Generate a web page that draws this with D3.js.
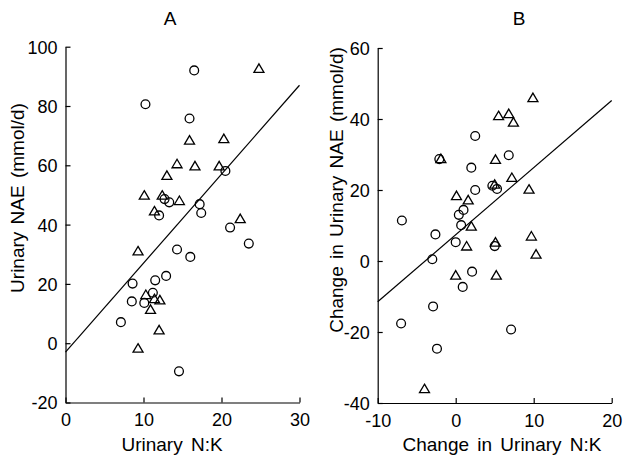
<!DOCTYPE html>
<html>
<head>
<meta charset="utf-8">
<script src="https://cdn.jsdelivr.net/npm/d3@7"></script>
<style>
  html, body { margin: 0; padding: 0; background: #fff; }
  svg text { font-family: "Liberation Sans", Arial, Helvetica, sans-serif; fill: #000; }
</style>
</head>
<body>
<svg id="chart" width="623" height="464"></svg>
<script>
// Panel A: urinary NAE vs urinary N:K
const aCircleX = [16.5, 10.25, 15.9, 20.5, 12.7, 13.3, 17.2, 17.4, 12.0, 21.1, 23.5, 14.3, 16.0, 12.9, 11.5, 8.6, 11.2, 8.5, 10.1, 7.1, 14.55];
const aCircleY = [92, 80.6, 75.8, 58.1, 48.6, 47.5, 46.9, 43.9, 43.1, 39, 33.6, 31.6, 29.1, 22.7, 21.2, 20.1, 17.0, 14.1, 13.6, 7.1, -9.5];
const aTriX = [24.8, 15.9, 20.3, 14.3, 16.6, 19.7, 13.0, 10.1, 12.4, 14.6, 11.4, 22.4, 9.3, 10.3, 11.4, 12.1, 10.9, 12.0, 9.3];
const aTriY = [92.8, 68.6, 69.1, 60.6, 59.9, 59.9, 56.7, 50, 50, 48.2, 44.7, 42.1, 31.2, 16.5, 15.1, 14.7, 11.5, 4.6, -1.6];
const aLineX = [0, 30];
const aLineY = [-3, 87];
const aXTicks = [0, 10, 20, 30];
const aYTicks = [-20, 0, 20, 40, 60, 80, 100];

// Panel B: change in urinary NAE vs change in urinary N:K
const bCircleX = [-6.9, -2.1, 2.5, 2.0, 6.8, 2.5, 4.7, 5.3, 1.0, 0.4, 0.7, -2.6, 0, 5.0, -3.0, 2.1, 0.9, -2.9, -7.0, 7.1, -2.4];
const bCircleY = [11.4, 28.7, 35.2, 26.3, 29.8, 20.0, 21.2, 20.3, 14.4, 13.0, 10.1, 7.5, 5.3, 4.2, 0.5, -3.0, -7.3, -12.8, -17.6, -19.3, -24.7];
const bTriX = [9.9, 5.5, 6.8, 7.4, -1.9, 5.1, 7.2, 5.0, 9.4, 0.1, 1.6, 2.0, 1.4, 5.1, 9.7, 10.3, 0, 5.2, -4.0];
const bTriY = [46.1, 41.0, 41.6, 39.2, 28.9, 28.7, 23.6, 21.7, 20.3, 18.5, 17.3, 9.9, 4.3, 5.4, 7.1, 2.0, -3.9, -3.9, -35.9];
const bLineX = [-10, 20];
const bLineY = [-11.5, 45.2];
const bXTicks = [-10, 0, 10, 20];
const bYTicks = [-40, -20, 0, 20, 40, 60];

const svg = d3.select("#chart");
const fmt = d => String(d); // plain hyphen-minus for negatives

function triPath(w, h) {
  return `M0,${-h / 2}L${w / 2},${h / 2}L${-w / 2},${h / 2}Z`;
}

function panel(cfg) {
  const x = d3.scaleLinear().domain(cfg.xDomain).range(cfg.xRange);
  const y = d3.scaleLinear().domain(cfg.yDomain).range(cfg.yRange);
  const g = svg.append("g");

  // axes with inward ticks
  const xAxis = d3.axisBottom(x).tickValues(cfg.xTicks).tickFormat(fmt)
    .tickSizeInner(-5).tickSizeOuter(0).tickPadding(11);
  const yAxis = d3.axisLeft(y).tickValues(cfg.yTicks).tickFormat(fmt)
    .tickSizeInner(-5).tickSizeOuter(0).tickPadding(8);

  const gx = g.append("g").attr("transform", `translate(0,${cfg.yRange[0]})`).call(xAxis);
  const gy = g.append("g").attr("transform", `translate(${cfg.xRange[0]},0)`).call(yAxis);
  [gx, gy].forEach(a => {
    a.selectAll("path.domain").attr("stroke", "#000").attr("stroke-width", 1.2);
    a.selectAll(".tick line").attr("stroke", "#000").attr("stroke-width", 1.2);
    a.selectAll(".tick text").attr("font-size", 18).attr("font-family", "Liberation Sans, Arial, sans-serif");
  });
  gy.selectAll(".tick text").attr("dy", "0.36em");

  // fitted line
  const line = d3.line().x(d => x(d[0])).y(d => y(d[1]));
  g.append("path")
    .datum(d3.zip(cfg.lineX, cfg.lineY))
    .attr("d", line)
    .attr("fill", "none")
    .attr("stroke", "#000")
    .attr("stroke-width", 1.2);

  // circles
  g.append("g").selectAll("circle")
    .data(d3.zip(cfg.cx, cfg.cy))
    .join("circle")
    .attr("cx", d => x(d[0]))
    .attr("cy", d => y(d[1]))
    .attr("r", 4.4)
    .attr("fill", "none")
    .attr("stroke", "#000")
    .attr("stroke-width", 1.3);

  // triangles
  g.append("g").selectAll("path")
    .data(d3.zip(cfg.tx, cfg.ty))
    .join("path")
    .attr("transform", d => `translate(${x(d[0])},${y(d[1])})`)
    .attr("d", triPath(10, 8.5))
    .attr("fill", "none")
    .attr("stroke", "#000")
    .attr("stroke-width", 1.3)
    .attr("stroke-linejoin", "miter");

  // panel letter
  g.append("text")
    .attr("x", cfg.titleX).attr("y", 25)
    .attr("text-anchor", "middle")
    .attr("font-size", 19)
    .text(cfg.title);

  // axis titles
  g.append("text")
    .attr("x", cfg.xTitleX).attr("y", 451)
    .attr("text-anchor", "middle")
    .attr("font-size", 19)
    .attr("word-spacing", 3)
    .text(cfg.xTitle);

  g.append("text")
    .attr("transform", `translate(${cfg.yTitleX},${cfg.yTitleY}) rotate(-90)`)
    .attr("text-anchor", "middle")
    .attr("font-size", 19)
    .attr("word-spacing", 2)
    .text(cfg.yTitle);
}

panel({
  xDomain: [0, 30], xRange: [65.5, 299.5],
  yDomain: [-20, 100], yRange: [402.5, 46.7],
  xTicks: aXTicks, yTicks: aYTicks,
  cx: aCircleX, cy: aCircleY, tx: aTriX, ty: aTriY,
  lineX: aLineX, lineY: aLineY,
  title: "A", titleX: 170,
  xTitle: "Urinary N:K", xTitleX: 172,
  yTitle: "Urinary NAE (mmol/d)", yTitleX: 24, yTitleY: 198
});

panel({
  xDomain: [-10, 20], xRange: [377.7, 611.7],
  yDomain: [-40, 60], yRange: [403, 48],
  xTicks: bXTicks, yTicks: bYTicks,
  cx: bCircleX, cy: bCircleY, tx: bTriX, ty: bTriY,
  lineX: bLineX, lineY: bLineY,
  title: "B", titleX: 519,
  xTitle: "Change in Urinary N:K", xTitleX: 502,
  yTitle: "Change in Urinary NAE (mmol/d)", yTitleX: 343, yTitleY: 190
});
</script>
</body>
</html>
